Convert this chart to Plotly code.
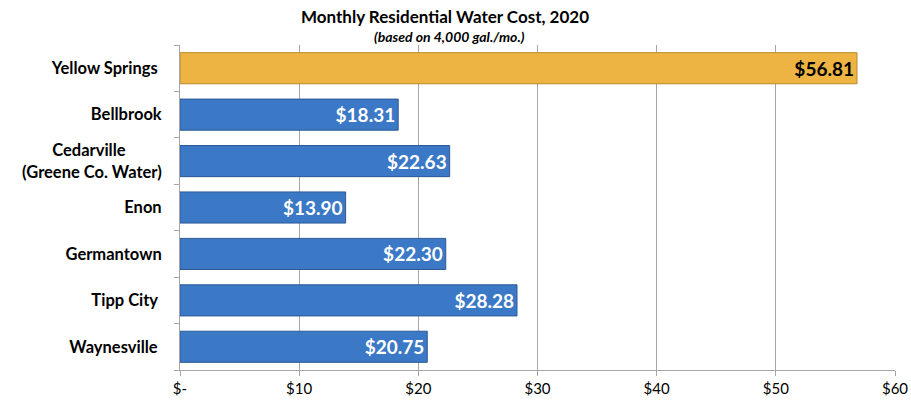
import plotly.graph_objects as go

categories = ["Yellow Springs", "Bellbrook", "Cedarville<br>(Greene Co. Water)", "Enon",
              "Germantown", "Tipp City", "Waynesville"]
costs = [56.81, 18.31, 22.63, 13.90, 22.30, 28.28, 20.75]
cost_labels = ["$56.81", "$18.31", "$22.63", "$13.90", "$22.30", "$28.28", "$20.75"]
tick_vals = [0, 10, 20, 30, 40, 50, 60]
tick_text = ["$-", "$10", "$20", "$30", "$40", "$50", "$60"]

FONT = "Lato, Open Sans, sans-serif"
bar_colors = ["#EEB443"] + ["#3B78C6"] * 6
line_colors = ["#B88A2A"] + ["#2C5A96"] * 6
text_colors = ["#000000"] + ["#FFFFFF"] * 6
NB = "\u00a0"
cat_text = ["Yellow Springs" + NB, "Bellbrook", NB * 9 + "Cedarville" + NB * 9 + "<br>(Greene Co. Water)",
            "Enon", "Germantown", "Tipp City" + NB, "Waynesville" + NB]

L, R, T, B = 180, 16, 45, 31
W, H = 911, 401

fig = go.Figure(go.Bar(
    y=categories, x=costs, orientation="h",
    marker=dict(color=bar_colors, line=dict(color=line_colors, width=1)),
    text=cost_labels, textposition="inside", insidetextanchor="end",
    constraintext="none",
    textfont=dict(family=FONT, size=19, color=text_colors, weight="bold"),
    cliponaxis=False,
))

def px_x(x):
    return (x - L) / (W - L - R)

def px_y(y):
    return 1 - (y - T) / (H - T - B)

fig.update_layout(
    width=W, height=H,
    margin=dict(l=L, r=R, t=T, b=B),
    paper_bgcolor="white", plot_bgcolor="white",
    bargap=0.33, showlegend=False,
    font=dict(family=FONT, color="#000000"),
    annotations=[
        dict(text="<b>Monthly Residential Water Cost, 2020</b>", x=px_x(445), y=px_y(17),
             xref="paper", yref="paper", xanchor="center", yanchor="middle",
             showarrow=False, font=dict(size=17, family=FONT)),
        dict(text="<b><i>(based on 4,000 gal./mo.)</i></b>", x=px_x(449), y=px_y(36),
             xref="paper", yref="paper", xanchor="center", yanchor="middle",
             showarrow=False, font=dict(size=14, family=FONT)),
    ],
)

fig.update_xaxes(
    range=[0, 60], tickvals=tick_vals, ticktext=tick_text, automargin=False,
    showgrid=True, gridcolor="#A6A6A6", gridwidth=1,
    showline=True, linecolor="#A6A6A6", linewidth=1,
    ticks="outside", ticklen=5, tickcolor="#A6A6A6",
    tickfont=dict(size=15, family=FONT, color="#000000"),
    zeroline=False,
)
fig.update_yaxes(
    autorange="reversed", tickvals=categories, ticktext=cat_text, automargin=False,
    showline=True, linecolor="#A6A6A6", linewidth=1,
    ticks="outside", ticklen=5, tickcolor="#A6A6A6", tickson="boundaries",
    ticklabelstandoff=14,
    tickfont=dict(size=16.5, family=FONT, color="#000000", weight="bold"),
    showgrid=False,
)

fig.write_html("out.html", config={"displayModeBar": False},
               post_script="document.body.style.margin='0';document.body.style.padding='0';")
